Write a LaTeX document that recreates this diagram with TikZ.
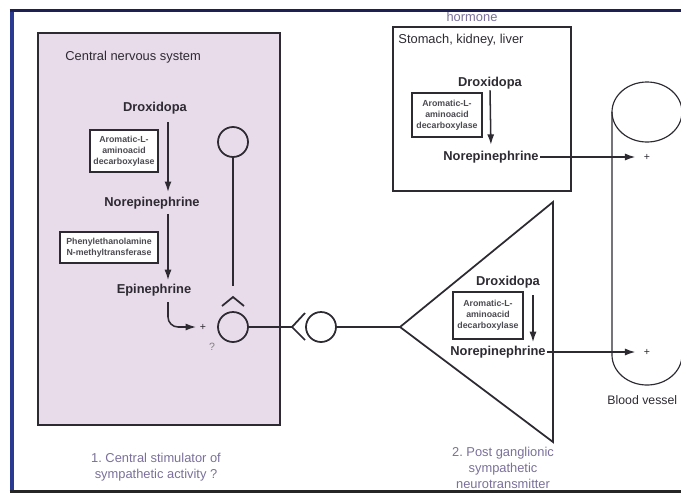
\documentclass[tikz,border=0pt]{standalone}
\usepackage{fontspec}
\setmainfont{Liberation Sans}
\usetikzlibrary{arrows.meta}

\definecolor{cnspink}{RGB}{232,220,235}
\definecolor{framenavy}{RGB}{28,32,85}
\definecolor{frameblue}{RGB}{42,58,145}
\definecolor{inkgray}{RGB}{45,42,50}
\definecolor{notepurple}{RGB}{122,112,155}

\begin{document}
\frenchspacing
\begin{tikzpicture}[x=0.03cm, y=-0.03cm,
        chem/.style={font=\fontsize{11}{13}\selectfont\bfseries, text=inkgray, inner sep=1pt},
        enzyme/.style={draw=inkgray, fill=white, line width=1.1pt, font=\fontsize{7.5}{9.5}\selectfont\bfseries, align=center, text=inkgray!85, inner sep=1.5pt},
        txt/.style={font=\fontsize{11}{13}\selectfont, text=inkgray, inner sep=1pt},
        note/.style={font=\fontsize{11}{13.5}\selectfont, text=notepurple, align=center, inner sep=0pt},
        soma/.style={circle, draw=inkgray, line width=1.5pt, minimum size=0.9cm, inner sep=0pt},
        sign/.style={font=\fontsize{9}{9}\selectfont, text=inkgray, inner sep=1pt},
        arrow/.style={-{Latex[length=9pt,width=6pt]}, line width=1.3pt, draw=inkgray},
        wire/.style={line width=1.5pt, draw=inkgray}
    ]
    \useasboundingbox (0,0) rectangle (681,494);

    % CNS side
    \draw[inkgray, fill=cnspink, line width=1pt] (38,33) rectangle (280,425);
    \node[txt, anchor=west] (cns) at (64,57) {Central nervous system};
    \node[chem] (dro1) at (155,108) {Droxidopa};
    \node[enzyme, minimum width=2.04cm, minimum height=1.26cm] (aad1) at (124,151) {Aromatic-L-\\aminoacid\\decarboxylase};
    \node[chem] (ne1) at (152,203) {Norepinephrine};
    \node[enzyme, minimum width=2.94cm, minimum height=0.93cm] (pnmt) at (109,247.5) {Phenylethanolamine\\N-methyltransferase};
    \node[chem] (epi) at (154,290) {Epinephrine};
    \coordinate (ax1) at (168,0);
    \draw[arrow, shorten <=6pt, shorten >=3pt] (ax1 |- dro1.south) -- (ax1 |- ne1.north);
    \draw[arrow, shorten <=3pt, shorten >=2pt] (ax1 |- ne1.south) -- (ax1 |- epi.north);
    \node[sign] (plus1) at (203,327) {+};
    \draw[arrow, rounded corners=3mm, shorten <=4pt, shorten >=2pt] (ax1 |- epi.south) |- (plus1.west);
    \node[font=\fontsize{9}{9}\selectfont, text=gray] (unsure) at (212,347) {?};

    % neurons
    \node[soma] (soma1) at (233,142) {};
    \node[soma] (soma2) at (233,327) {};
    \coordinate (rec) at (233,297);
    \draw[wire, shorten >=9pt] (soma1.south) -- (rec);
    \draw[wire] ([shift={(-11,9)}]rec) -- (rec) -- ([shift={(11,9)}]rec);
    \coordinate (syn) at (292,327);
    \draw[wire] (soma2.east) -- (syn);
    \draw[wire] ([shift={(13,-14)}]syn) -- (syn) -- ([shift={(13,13)}]syn);
    \node[soma] (soma3) at (321,327) {};
    \coordinate (tip) at (400,327);
    \coordinate (ttop) at (553,202);
    \coordinate (tbot) at (553,442);
    \draw[wire] (soma3.east) -- (tip);
    \draw[wire] (tip) -- (ttop) -- (tbot) -- cycle;

    % post ganglionic side
    \node[chem] (dro3) at (508,282) {Droxidopa};
    \node[enzyme, minimum width=2.1cm, minimum height=1.41cm] (aad3) at (488,315.5) {Aromatic-L-\\aminoacid\\decarboxylase};
    \node[chem] (ne3) at (498,352) {Norepinephrine};
    \coordinate (ax3) at (533,0);
    \draw[arrow, shorten <=5pt, shorten >=2pt] (ax3 |- dro3.south) -- (ax3 |- ne3.north);
    \node[sign] (plus3) at (647,352) {+};
    \draw[arrow, shorten >=6pt] (ne3.east) -- (plus3.west);

    % hormone side
    \draw[inkgray, line width=1pt] (393,27) rectangle (571,191);
    \node[note] (hormone) at (472,17) {hormone};
    \node[txt, anchor=west] (organs) at (397,40) {Stomach, kidney, liver};
    \node[chem] (dro2) at (490,83) {Droxidopa};
    \node[enzyme, minimum width=2.1cm, minimum height=1.32cm] (aad2) at (447,115) {Aromatic-L-\\aminoacid\\decarboxylase};
    \node[chem] (ne2) at (491,157) {Norepinephrine};
    \draw[arrow, shorten >=4pt] (dro2.south) -- (ne2.north);
    \node[sign] (plus2) at (647,157) {+};
    \draw[arrow, shorten >=6pt] (ne2.east) -- (plus2.west);

    % blood vessel
    \draw[inkgray, line width=1pt] (647,112) ellipse [x radius=1.05cm, y radius=0.9cm];
    \draw[inkgray, line width=1pt] (612,112) -- (612,355) arc [start angle=180, end angle=360, x radius=1.05cm, y radius=0.9cm] -- (682,112);
    \node[txt, anchor=west, font=\fontsize{10.5}{12}\selectfont] (vessel) at (606,400) {Blood vessel};

    % notes
    \node[note] (role1) at (156,467) {1. Central stimulator of\\sympathetic activity ?};
    \node[note] (role2) at (503,468) {2. Post ganglionic\\sympathetic\\neurotransmitter};

    % frame
    \fill[frameblue] (9.5,9) rectangle (13.5,493);
    \draw[framenavy, line width=2.4pt] (9.5,10.5) -- (681,10.5);
    \draw[black!85, line width=2.4pt] (9.5,491.5) -- (681,491.5);
\end{tikzpicture}
\end{document}
